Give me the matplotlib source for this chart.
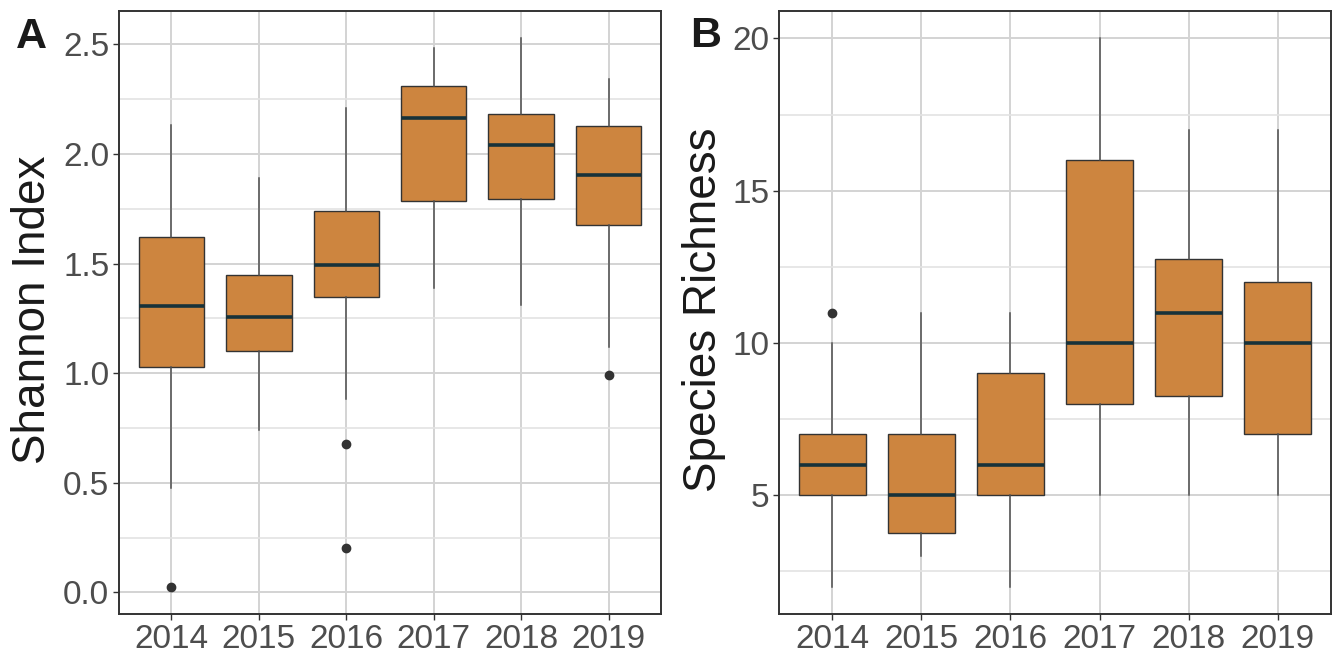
import matplotlib
matplotlib.use("Agg")
import matplotlib.pyplot as plt
from matplotlib.ticker import MultipleLocator, FormatStrFormatter

plt.rcParams["font.family"] = ["Liberation Sans", "DejaVu Sans"]

years = ["2014", "2015", "2016", "2017", "2018", "2019"]

# Shannon index: box summaries per year
sh_whislo = [0.476, 0.740, 0.880, 1.388, 1.309, 1.117]
sh_q1 = [1.026, 1.100, 1.347, 1.785, 1.793, 1.675]
sh_med = [1.308, 1.256, 1.493, 2.165, 2.040, 1.905]
sh_q3 = [1.620, 1.449, 1.741, 2.311, 2.184, 2.127]
sh_whishi = [2.130, 1.888, 2.209, 2.485, 2.527, 2.340]
sh_fliers = [[0.026], [], [0.676, 0.200], [], [], [0.991]]

# Species richness: box summaries per year
sr_whislo = [2, 3, 2, 5, 5, 5]
sr_q1 = [5, 3.75, 5, 8, 8.25, 7]
sr_med = [6, 5, 6, 10, 11, 10]
sr_q3 = [7, 7, 9, 16, 12.75, 12]
sr_whishi = [10, 11, 11, 20, 17, 17]
sr_fliers = [[11], [], [], [], [], []]

FILL = "#cd853f"
EDGE = "#333333"
MEDIAN = "#17323a"
TICK_COL = "#4d4d4d"


def make_stats(lo, q1, med, q3, hi, fl):
    return [dict(whislo=a, q1=b, med=c, q3=d, whishi=e, fliers=f)
            for a, b, c, d, e, f in zip(lo, q1, med, q3, hi, fl)]


def draw_panel(ax, stats, ylim, major, minor):
    pos = list(range(len(years)))
    ax.set_axisbelow(True)
    ax.bxp(stats, positions=pos, widths=0.75, patch_artist=True,
           showcaps=False, zorder=3,
           boxprops=dict(facecolor=FILL, edgecolor=EDGE, linewidth=1.0),
           medianprops=dict(color=MEDIAN, linewidth=2.6, solid_capstyle="butt"),
           whiskerprops=dict(color="#505050", linewidth=1.1),
           flierprops=dict(marker="o", markerfacecolor="#333333",
                           markeredgecolor="#333333", markersize=6))
    ax.set_xlim(-0.6, len(years) - 0.4)
    ax.set_ylim(*ylim)
    ax.set_xticks(pos)
    ax.set_xticklabels(years)
    ax.yaxis.set_major_locator(MultipleLocator(major))
    ax.yaxis.set_minor_locator(MultipleLocator(minor))
    ax.grid(True, which="major", color="#d3d3d3", linewidth=1.4)
    ax.grid(True, which="minor", axis="y", color="#e3e3e3", linewidth=1.2)
    ax.tick_params(which="major", length=4, width=1, color="#333333",
                   labelsize=24, labelcolor=TICK_COL, pad=3)
    ax.tick_params(which="minor", length=0)
    for s in ax.spines.values():
        s.set_color("#333333")
        s.set_linewidth(1.4)


fig = plt.figure(figsize=(13.33, 6.53), dpi=100)
W, H = 1333, 653

ax1 = fig.add_axes([119 / W, 1 - 614 / H, (661 - 119) / W, (614 - 11) / H])
ax2 = fig.add_axes([779 / W, 1 - 614 / H, (1331 - 779) / W, (614 - 11) / H])

draw_panel(ax1, make_stats(sh_whislo, sh_q1, sh_med, sh_q3, sh_whishi, sh_fliers),
           (-0.099, 2.652), 0.5, 0.25)
ax1.yaxis.set_major_formatter(FormatStrFormatter("%.1f"))

draw_panel(ax2, make_stats(sr_whislo, sr_q1, sr_med, sr_q3, sr_whishi, sr_fliers),
           (1.1, 20.9), 5, 2.5)

fig.text(33 / W, 1 - 310 / H, "Shannon Index", rotation=90, fontsize=33,
         color="#1a1a1a", ha="center", va="center")
fig.text(704 / W, 1 - 310 / H, "Species Richness", rotation=90, fontsize=33,
         color="#1a1a1a", ha="center", va="center")

fig.text(16 / W, 1 - 48 / H, "A", fontsize=31, fontweight="bold",
         color="#1a1a1a", ha="left", va="baseline")
fig.text(690 / W, 1 - 47 / H, "B", fontsize=31, fontweight="bold",
         color="#1a1a1a", ha="left", va="baseline")

fig.savefig("out.png", dpi=100)
